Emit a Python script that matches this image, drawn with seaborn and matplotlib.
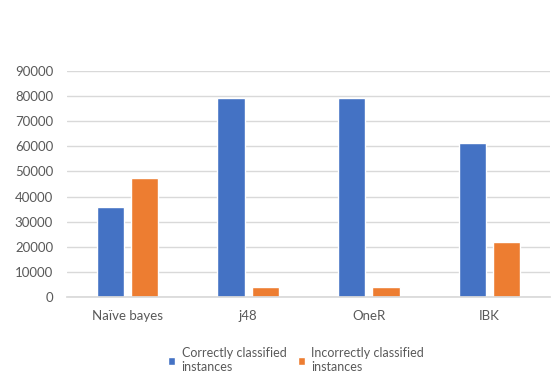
import matplotlib
matplotlib.use("Agg")
import matplotlib.pyplot as plt
import seaborn as sns
import pandas as pd

categories = ["Naïve bayes", "j48", "OneR", "IBK"]
correct = [36000, 79000, 79000, 61400]
incorrect = [47200, 4100, 4100, 21800]
series_names = ["Correctly classified\ninstances", "Incorrectly classified\ninstances"]
yticks = [0, 10000, 20000, 30000, 40000, 50000, 60000, 70000, 80000, 90000]

df = pd.DataFrame({
    "Classifier": categories * 2,
    "Series": [series_names[0]] * 4 + [series_names[1]] * 4,
    "Value": correct + incorrect,
})

sns.set_theme(style="white")
plt.rcParams["font.family"] = ["Lato", "DejaVu Sans"]

fig = plt.figure(figsize=(5.55, 3.74), dpi=100)
ax = fig.add_axes([67/555, 1 - 297.3/374, (550-67)/555, (297.3-70.7)/374])

sns.barplot(data=df, x="Classifier", y="Value", hue="Series", ax=ax,
            palette=["#4472C4", "#ED7D31"], width=0.564, gap=0.2,
            saturation=1, legend=True)

ax.set_ylim(0, 90000)
ax.set_xlim(-0.5, 3.5)
ax.set_yticks(yticks)
ax.set_yticklabels([str(v) for v in yticks])
ax.yaxis.grid(True, color="#d9d9d9", linewidth=1)
ax.set_axisbelow(True)
for s in ["top", "right", "left"]:
    ax.spines[s].set_visible(False)
ax.spines["bottom"].set_color("#d9d9d9")
ax.set_xlabel("")
ax.set_ylabel("")
ax.tick_params(axis="both", length=0, colors="#595959", labelsize=9.5)
ax.tick_params(axis="y", pad=10)
ax.tick_params(axis="x", pad=9)

handles, labels = ax.get_legend_handles_labels()
ax.get_legend().remove()
fig.legend(handles, labels, loc="center", bbox_to_anchor=(296/555, 1 - 360/374),
           ncol=2, frameon=False, fontsize=9, handlelength=0.6, handleheight=0.6,
           handletextpad=0.5, columnspacing=0.9, labelcolor="#595959")

fig.savefig("out.png", dpi=100)
